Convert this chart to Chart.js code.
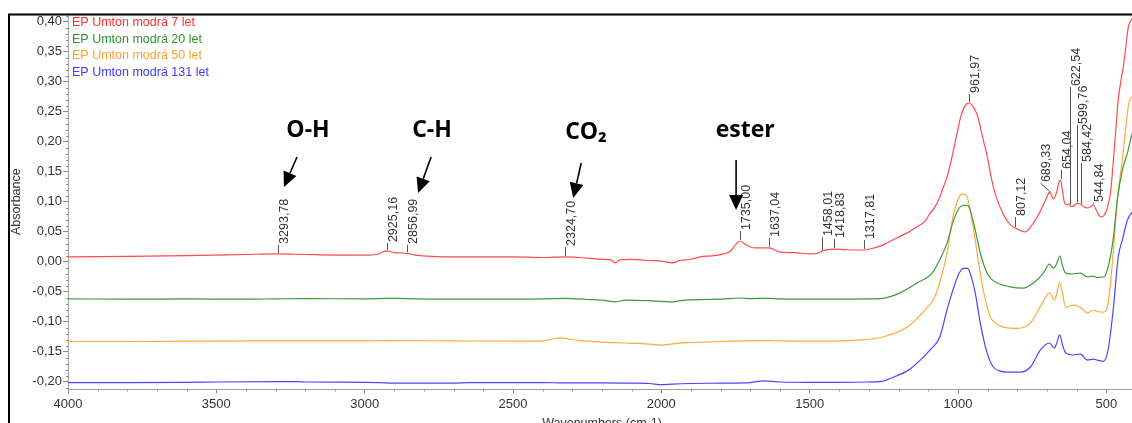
<!DOCTYPE html>
<html>
<head>
<meta charset="utf-8">
<script src="https://cdn.jsdelivr.net/npm/chart.js@4"></script>
<style>
  html, body { margin: 0; padding: 0; background: #fff; overflow: hidden; }
  #wrap { width: 1132px; height: 423px; overflow: hidden; position: relative; }
</style>
</head>
<body>
<div id="wrap"><canvas id="spectra" width="1136" height="440"></canvas></div>
<script>
// series (wavenumber cm-1 / absorbance)
const seriesNames = ["EP Umton modrá 7 let", "EP Umton modrá 20 let", "EP Umton modrá 50 let", "EP Umton modrá 131 let"];
const xTickValues = [4000, 3500, 3000, 2500, 2000, 1500, 1000, 500];
const yTickValues = [-0.20, -0.15, -0.10, -0.05, 0, 0.05, 0.10, 0.15, 0.20, 0.25, 0.30, 0.35, 0.40];

const redWn = [4000,3800,3600,3400,3300,3200,3100,3000,2960,2925,2900,2857,2830,2700,2500,2400,2325,2250,2200,2170,2156,2140,2100,2050,2000,1963,1940,1900,1869,1820,1790,1768,1750,1735,1720,1700,1680,1637,1600,1550,1500,1470,1458,1418,1380,1350,1317,1290,1253,1205,1171,1140,1110,1094,1078,1061,1051,1037,1020,1003,990,975,962,950,935,915,900,891,880,868,850,836,820,807,790,773,755,733,715,700,692,684,678,668,660,654,648,640,632,627,620,610,600,587,575,564,552,544,532,520,510,503,494,486,476,468,460,452,443,435,426,412,400];
const redAbs = [0.008,0.009,0.010,0.012,0.013,0.012,0.011,0.011,0.012,0.018,0.015,0.014,0.011,0.008,0.008,0.007,0.008,0.006,0.004,0.003,-0.002,0.003,0.004,0.002,0.001,-0.002,0.002,0.004,0.008,0.010,0.013,0.017,0.028,0.0345,0.030,0.0245,0.023,0.023,0.016,0.015,0.013,0.0145,0.018,0.021,0.020,0.0195,0.0195,0.022,0.028,0.040,0.048,0.058,0.068,0.081,0.091,0.108,0.122,0.141,0.175,0.2145,0.243,0.261,0.2645,0.259,0.2445,0.203,0.172,0.148,0.123,0.103,0.082,0.0695,0.060,0.056,0.052,0.0495,0.058,0.0745,0.092,0.108,0.116,0.110,0.1045,0.115,0.132,0.136,0.118,0.097,0.095,0.096,0.092,0.093,0.097,0.096,0.091,0.0895,0.092,0.0945,0.084,0.0745,0.076,0.081,0.095,0.1145,0.1695,0.22,0.2695,0.298,0.3245,0.355,0.391,0.405,0.41];

const greenWn = [4000,3800,3600,3400,3300,3200,3000,2925,2857,2700,2500,2400,2325,2250,2200,2156,2120,2050,2000,1963,1920,1850,1800,1735,1700,1637,1600,1500,1400,1300,1253,1195,1138,1087,1067,1037,1017,996,980,967,959,942,925,902,885,868,824,780,746,712,692,678,668,657,647,637,614,587,564,544,530,510,494,476,463,446,429,412,400];
const greenAbs = [-0.062,-0.0625,-0.062,-0.0625,-0.062,-0.0615,-0.062,-0.061,-0.0615,-0.0625,-0.0625,-0.062,-0.061,-0.063,-0.064,-0.067,-0.064,-0.065,-0.066,-0.067,-0.064,-0.063,-0.0625,-0.0605,-0.0615,-0.061,-0.062,-0.0625,-0.0625,-0.062,-0.061,-0.052,-0.0355,-0.019,-0.002,0.031,0.066,0.0895,0.094,0.094,0.086,0.053,0.0145,-0.019,-0.030,-0.0355,-0.042,-0.044,-0.0355,-0.019,-0.004,-0.011,-0.004,0.0095,-0.008,-0.019,-0.0205,-0.019,-0.0255,-0.024,-0.026,-0.0255,-0.009,0.041,0.103,0.153,0.181,0.215,0.225];

const orangeWn = [4000,3800,3600,3400,3300,3000,2925,2700,2500,2400,2360,2340,2310,2280,2200,2156,2100,2050,2000,1963,1920,1850,1800,1735,1637,1600,1500,1400,1364,1253,1171,1104,1078,1037,1017,996,986,975,966,949,932,915,891,870,847,800,756,716,692,675,668,657,647,637,610,587,564,544,530,510,494,476,463,446,435,425,412,400];
const orangeAbs = [-0.133,-0.133,-0.1325,-0.132,-0.132,-0.132,-0.1315,-0.132,-0.1325,-0.132,-0.128,-0.127,-0.129,-0.131,-0.134,-0.135,-0.136,-0.137,-0.139,-0.137,-0.135,-0.134,-0.133,-0.132,-0.1315,-0.132,-0.1325,-0.132,-0.1315,-0.1255,-0.109,-0.076,-0.059,0.0145,0.0745,0.108,0.113,0.112,0.103,0.058,0.003,-0.047,-0.092,-0.104,-0.109,-0.111,-0.102,-0.069,-0.052,-0.064,-0.055,-0.035,-0.055,-0.076,-0.0725,-0.076,-0.0855,-0.0805,-0.083,-0.084,-0.069,0.0195,0.103,0.17,0.22,0.262,0.275,0.277];

const blueWn = [4000,3800,3600,3500,3300,3230,3200,3000,2950,2900,2700,2650,2500,2400,2340,2200,2100,2040,2000,1963,1900,1800,1700,1654,1600,1500,1400,1300,1258,1208,1171,1138,1094,1061,1037,1017,996,980,967,959,942,925,902,881,860,834,790,756,722,692,675,668,657,647,637,614,587,564,544,530,510,494,476,460,446,429,412,400];
const blueAbs = [-0.2015,-0.2015,-0.201,-0.2005,-0.2,-0.2,-0.2005,-0.201,-0.2015,-0.2025,-0.2025,-0.2015,-0.2015,-0.2015,-0.202,-0.202,-0.2025,-0.203,-0.205,-0.204,-0.203,-0.2025,-0.2015,-0.1985,-0.2005,-0.201,-0.201,-0.2005,-0.1995,-0.1905,-0.182,-0.169,-0.147,-0.125,-0.08,-0.047,-0.019,-0.011,-0.011,-0.019,-0.052,-0.102,-0.152,-0.1755,-0.182,-0.184,-0.184,-0.1755,-0.147,-0.1355,-0.144,-0.137,-0.122,-0.14,-0.152,-0.1555,-0.154,-0.164,-0.1625,-0.164,-0.166,-0.147,-0.076,0.008,0.036,0.0695,0.083,0.087];

// peak picks on the 7 let spectrum
const peakWn = [3293.78, 2925.16, 2856.99, 2324.70, 1735.00, 1637.04, 1458.01, 1418.83, 1317.81, 961.97, 807.12, 689.33, 654.04, 622.54, 599.76, 584.42, 544.84];
const peakLabelAbs = [0.028, 0.031, 0.028, 0.0245, 0.051, 0.0395, 0.041, 0.038, 0.036, 0.2795, 0.0745, 0.131, 0.153, 0.291, 0.228, 0.1645, 0.098];
const peakLabelWn = [3293.78, 2925.16, 2856.99, 2324.70, 1735.00, 1637.04, 1458.01, 1418.83, 1317.81, 961.97, 807.12, 722, 654.04, 622.54, 599.76, 584.42, 544.84];

// band annotations
const noteText = ["O-H", "C-H", "CO₂", "ester"];
const noteWn = [3191, 2773, 2254, 1717];
const noteAbs = [0.218, 0.218, 0.216, 0.218];
const arrowFromWn = [3228, 2776, 2270, 1748];
const arrowFromAbs = [0.1745, 0.1745, 0.1645, 0.1695];
const arrowToWn = [3272, 2820, 2297, 1748];
const arrowToAbs = [0.1245, 0.1145, 0.1062, 0.086];

const colors = ['#ff4a4a', '#3a9a3a', '#ffaa3c', '#4646ff'];
const textColors = ['#ff2e2e', '#2f922f', '#ffa22e', '#3a3aff'];

function toPoints(wn, abs) {
  return wn.map((w, i) => ({ x: w, y: abs[i] }));
}

function redAt(w) {
  for (let i = 0; i < redWn.length - 1; i++) {
    if (w <= redWn[i] && w >= redWn[i + 1]) {
      const t = (redWn[i] - w) / (redWn[i] - redWn[i + 1]);
      return redAbs[i] + t * (redAbs[i + 1] - redAbs[i]);
    }
  }
  return redAbs[redAbs.length - 1];
}

const frame = {
  id: 'frame',
  afterDraw(chart) {
    const ctx = chart.ctx;
    ctx.save();
    ctx.strokeStyle = '#000';
    ctx.lineWidth = 2;
    ctx.beginPath();
    ctx.moveTo(8, 14.5); ctx.lineTo(chart.width, 14.5);
    ctx.moveTo(9, 14); ctx.lineTo(9, chart.height);
    ctx.stroke();
    ctx.restore();
  }
};

const minorTicks = {
  id: 'minorTicks',
  afterDraw(chart) {
    const { ctx, scales: { x, y } } = chart;
    ctx.save();
    ctx.strokeStyle = '#8a8a8a';
    ctx.lineWidth = 1;
    ctx.beginPath();
    for (let w = 400; w <= 4000; w += 100) {
      if (w % 500 === 0) continue;
      const px = Math.round(x.getPixelForValue(w)) + 0.5;
      ctx.moveTo(px, y.bottom); ctx.lineTo(px, y.bottom + 2);
    }
    for (let k = -21; k <= 41; k++) {
      if (k % 5 === 0) continue;
      const py = Math.round(y.getPixelForValue(k / 100)) + 0.5;
      ctx.moveTo(x.left - 2, py); ctx.lineTo(x.left, py);
    }
    ctx.stroke();
    ctx.restore();
  }
};

const legendText = {
  id: 'legendText',
  afterDraw(chart) {
    const { ctx, scales: { x, y } } = chart;
    ctx.save();
    ctx.font = '12.5px "Liberation Sans", Arial, sans-serif';
    ctx.textBaseline = 'middle';
    ctx.textAlign = 'left';
    seriesNames.forEach((name, i) => {
      ctx.fillStyle = textColors[i];
      ctx.fillText(name, x.left + 4, y.top + 8.5 + i * 16.7);
    });
    ctx.restore();
  }
};

const peakLabels = {
  id: 'peakLabels',
  afterDatasetsDraw(chart) {
    const { ctx, scales: { x, y } } = chart;
    ctx.save();
    ctx.strokeStyle = '#555';
    ctx.fillStyle = '#333';
    ctx.lineWidth = 1;
    ctx.font = '12.5px "Liberation Sans", Arial, sans-serif';
    peakWn.forEach((w, i) => {
      const px = Math.round(x.getPixelForValue(w)) + 0.5;
      const base = y.getPixelForValue(redAt(w)) - 1;
      const top = y.getPixelForValue(peakLabelAbs[i]);
      const lx = Math.round(x.getPixelForValue(peakLabelWn[i])) + 0.5;
      ctx.beginPath();
      ctx.moveTo(px, base);
      ctx.lineTo(lx, top);
      ctx.stroke();
      ctx.save();
      ctx.translate(lx + 6.5, top - 1);
      ctx.rotate(-Math.PI / 2);
      ctx.textAlign = 'left';
      ctx.textBaseline = 'middle';
      ctx.fillText(w.toFixed(2).replace('.', ','), 0, 0);
      ctx.restore();
    });
    ctx.restore();
  }
};

const bandNotes = {
  id: 'bandNotes',
  afterDraw(chart) {
    const { ctx, scales: { x, y } } = chart;
    ctx.save();
    ctx.fillStyle = '#000';
    ctx.strokeStyle = '#000';
    ctx.font = 'bold 23px "Open Sans", "Noto Sans", sans-serif';
    ctx.textAlign = 'center';
    ctx.textBaseline = 'middle';
    noteText.forEach((t, i) => {
      ctx.fillText(t, x.getPixelForValue(noteWn[i]), y.getPixelForValue(noteAbs[i]));
      const fx = x.getPixelForValue(arrowFromWn[i]), fy = y.getPixelForValue(arrowFromAbs[i]);
      const tx = x.getPixelForValue(arrowToWn[i]), ty = y.getPixelForValue(arrowToAbs[i]);
      const ang = Math.atan2(ty - fy, tx - fx);
      const hl = 15, hw = 7;
      const bx = tx - hl * Math.cos(ang), by = ty - hl * Math.sin(ang);
      ctx.lineWidth = 1.6;
      ctx.beginPath();
      ctx.moveTo(fx, fy); ctx.lineTo(bx, by);
      ctx.stroke();
      ctx.beginPath();
      ctx.moveTo(tx, ty);
      ctx.lineTo(bx + hw * Math.sin(ang), by - hw * Math.cos(ang));
      ctx.lineTo(bx - hw * Math.sin(ang), by + hw * Math.cos(ang));
      ctx.closePath();
      ctx.fill();
    });
    ctx.restore();
  }
};

const tickFont = { family: '"Liberation Sans", Arial, sans-serif', size: 13 };

new Chart(document.getElementById('spectra'), {
  type: 'line',
  data: {
    datasets: [
      { label: seriesNames[0], data: toPoints(redWn, redAbs), borderColor: colors[0] },
      { label: seriesNames[1], data: toPoints(greenWn, greenAbs), borderColor: colors[1] },
      { label: seriesNames[2], data: toPoints(orangeWn, orangeAbs), borderColor: colors[2] },
      { label: seriesNames[3], data: toPoints(blueWn, blueAbs), borderColor: colors[3] }
    ]
  },
  options: {
    responsive: false,
    animation: false,
    layout: { padding: { top: 14, left: 0, right: 0, bottom: 0 } },
    elements: {
      point: { radius: 0 },
      line: { borderWidth: 1.2, cubicInterpolationMode: 'monotone', fill: false }
    },
    plugins: {
      legend: { display: false },
      tooltip: { enabled: false }
    },
    scales: {
      x: {
        type: 'linear',
        reverse: true,
        min: 400,
        max: 4000,
        afterBuildTicks: s => { s.ticks = xTickValues.map(v => ({ value: v })); },
        afterFit: s => { s.height = 50.7; },
        ticks: { color: '#333', font: tickFont, padding: 3, maxRotation: 0, autoSkip: false, callback: v => String(v) },
        grid: { drawOnChartArea: false, tickLength: 4, tickColor: '#888' },
        border: { color: '#a0a0a0' },
        title: {
          display: true,
          text: 'Wavenumbers (cm-1)',
          color: '#333',
          font: { family: '"Liberation Sans", Arial, sans-serif', size: 12.5 },
          padding: { top: 0, bottom: 8.5 }
        }
      },
      y: {
        min: -0.2127,
        max: 0.4128,
        afterBuildTicks: s => { s.ticks = yTickValues.map(v => ({ value: v })); },
        afterFit: s => { s.width = 68; },
        ticks: {
          color: '#333',
          font: tickFont,
          padding: 1,
          autoSkip: false,
          callback: v => v.toFixed(2).replace('.', ',')
        },
        grid: { drawOnChartArea: false, tickLength: 5, tickColor: '#888' },
        border: { color: '#a0a0a0' },
        title: {
          display: true,
          text: 'Absorbance',
          color: '#333',
          font: { family: '"Liberation Sans", Arial, sans-serif', size: 12.5 },
          padding: { top: 9, bottom: 0 }
        }
      }
    }
  },
  plugins: [minorTicks, legendText, peakLabels, bandNotes, frame]
});
</script>
</body>
</html>
